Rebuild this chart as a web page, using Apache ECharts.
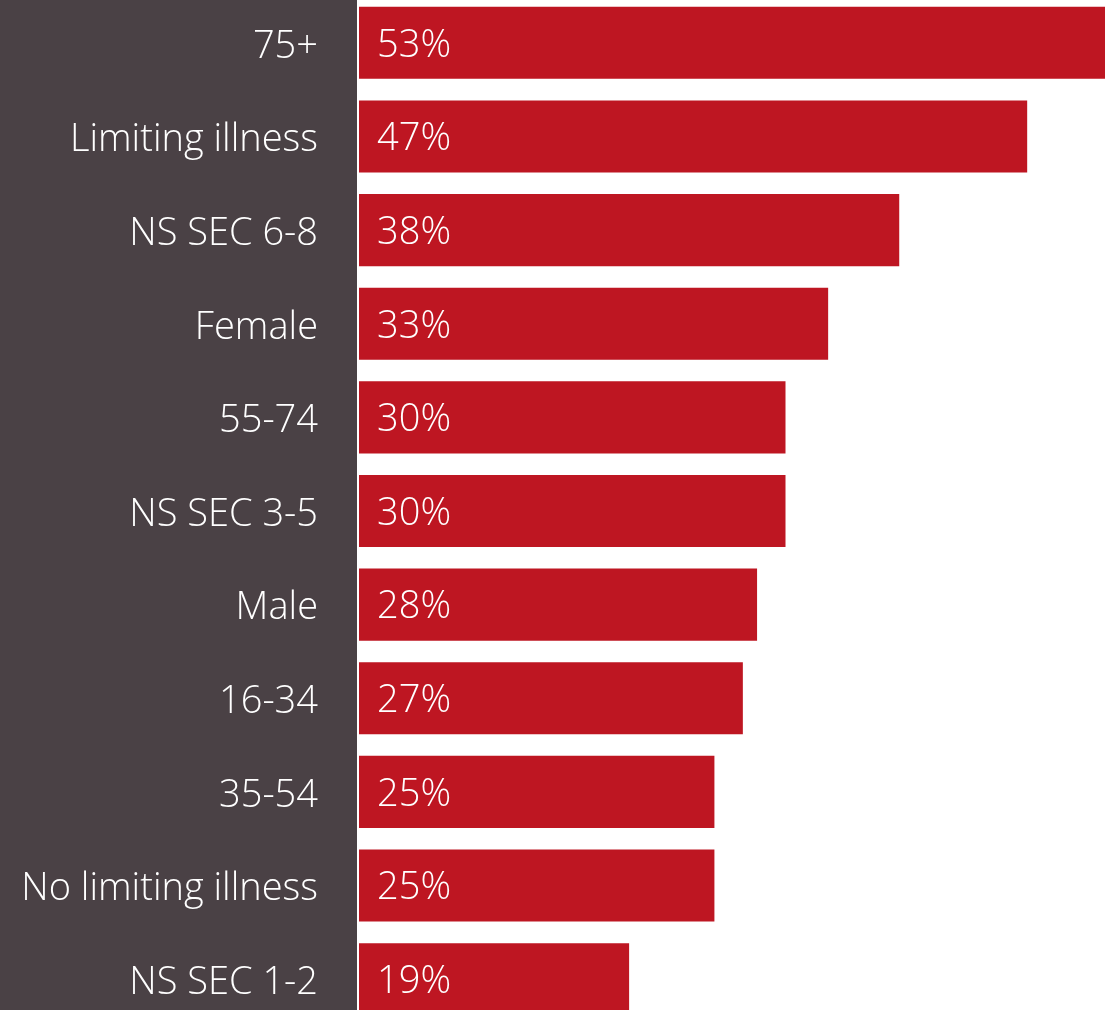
<!DOCTYPE html>
<html>
<head>
<meta charset="utf-8">
<title>Share by group</title>
<script src="https://cdn.jsdelivr.net/npm/echarts@6/dist/echarts.min.js"></script>
<style>
  html, body { margin: 0; padding: 0; background: #ffffff; }
  #chart { width: 1105px; height: 1010px; }
</style>
</head>
<body>
<div id="chart"></div>
<script>
// Groups, top to bottom
const categories = [
  '75+', 'Limiting illness', 'NS SEC 6-8', 'Female', '55-74', 'NS SEC 3-5',
  'Male', '16-34', '35-54', 'No limiting illness', 'NS SEC 1-2'
];
// Percentage for each group
const values = [53, 47, 38, 33, 30, 30, 28, 27, 25, 25, 19];

const chart = echarts.init(document.getElementById('chart'), null, { renderer: 'canvas' });

const FONT = '"Open Sans", Lato, sans-serif';

chart.setOption({
  animation: false,
  backgroundColor: '#ffffff',
  graphic: [{
    type: 'rect',
    z: -10,
    silent: true,
    shape: { x: 0, y: 0, width: 357, height: 1010 },
    style: { fill: '#4a4145' }
  }],
  grid: {
    left: 359,
    top: -4,
    width: 853,
    height: 1030,
    containLabel: false,
    outerBoundsMode: 'none'
  },
  xAxis: {
    type: 'value',
    min: 0,
    max: 60,
    show: false
  },
  yAxis: {
    type: 'category',
    data: categories,
    inverse: true,
    axisLine: { show: false },
    axisTick: { show: false },
    splitLine: { show: false },
    axisLabel: {
      margin: 41,
      align: 'right',
      formatter: v => '{c|' + v + '}',
      rich: {
        c: {
          color: '#ffffff',
          fontFamily: FONT,
          fontWeight: 300,
          fontSize: 38,
          padding: [8, 0, 0, 0]
        }
      }
    }
  },
  series: [{
    type: 'bar',
    data: values,
    barCategoryGap: '23%',
    itemStyle: { color: '#be1622' },
    label: {
      show: true,
      position: 'insideLeft',
      distance: 18,
      offset: [0, 3],
      color: '#ffffff',
      fontFamily: FONT,
      fontWeight: 300,
      fontSize: 38,
      formatter: p => p.value + '%'
    }
  }]
});
</script>
</body>
</html>
